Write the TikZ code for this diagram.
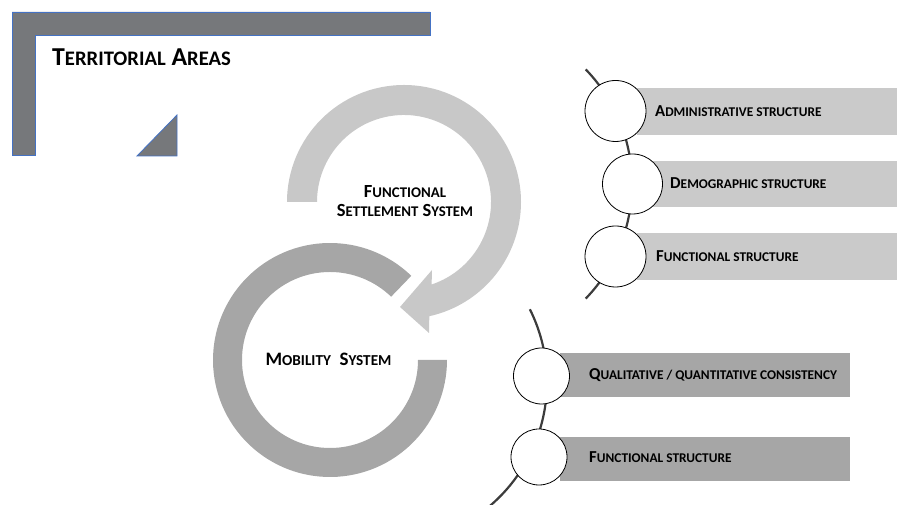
\documentclass[tikz,border=0pt]{standalone}
\usepackage{fontspec}
\setmainfont{Carlito}
\usetikzlibrary{calc}

% first letter at full size, the rest as reduced capitals
\makeatletter
\newcommand\capsx[2]{#1{\fontsize{\strip@pt\dimexpr\f@size pt*4/5\relax}{0pt}\selectfont #2}}
\makeatother

\definecolor{frame}{RGB}{118,120,123}
\definecolor{edge}{RGB}{68,114,196}
\definecolor{ringlight}{RGB}{200,200,200}
\definecolor{ringdark}{RGB}{166,166,166}
\definecolor{barlight}{RGB}{202,202,202}
\definecolor{bardark}{RGB}{166,166,166}
\definecolor{spine}{RGB}{60,60,60}

\tikzset{
  frameshape/.style={fill=frame, draw=edge, line width=0.8pt, line join=miter},
  spineline/.style={draw=spine, line width=2.2pt},
  bead/.style={circle, draw=black, fill=white, line width=0.8pt, inner sep=0pt, outer sep=0pt},
  bar/.style={rectangle, inner sep=0pt, outer sep=0pt, anchor=south west},
  itemtext/.style={anchor=base west, inner sep=0pt, font=\bfseries\fontsize{16.7}{18}\selectfont},
  ringtext/.style={anchor=base, inner sep=0pt, font=\bfseries\fontsize{18.5}{20}\selectfont},
}

\begin{document}
\begin{tikzpicture}[x=1pt,y=1pt]
\useasboundingbox (0,0) rectangle (897,505);
\clip (0,0) rectangle (897,505);

% corner frame and small triangle
\path[frameshape] (12,493) -- (430,493) -- (430,470) -- (35,470) -- (35,350) -- (12,350) -- cycle;
\path[frameshape] (137,349) -- (177,349) -- (177,390) -- cycle;
\node[anchor=base west, inner sep=0pt, font=\bfseries\fontsize{25.8}{28}\selectfont] (title) at (52,439)
  {\capsx{T}{ERRITORIAL} \capsx{A}{REAS}};

% mobility ring
\begin{scope}[shift={(330,145)}]
  \fill[ringdark] (46:117) arc[start angle=46, end angle=360, radius=117]
    -- (0:88) arc[start angle=360, end angle=46, radius=88] -- cycle;
\end{scope}

% settlement ring with arrow head
\begin{scope}[shift={(404,303)}]
  \fill[ringlight] (180:117) arc[start angle=180, end angle=-77.5, radius=117]
    -- (25,-131) -- (-4,-105) -- (28,-68)
    -- (-71.5:87) arc[start angle=-71.5, end angle=180, radius=87] -- cycle;
\end{scope}

\node[ringtext] (fssa) at (405,307) {\capsx{F}{UNCTIONAL}};
\node[ringtext] (fssb) at (405,288) {\capsx{S}{ETTLEMENT} \capsx{S}{YSTEM}};
\node[anchor=base, inner sep=0pt, font=\bfseries\fontsize{19}{21}\selectfont] (mob) at (328.5,139)
  {\capsx{M}{OBILITY}\ \ \capsx{S}{YSTEM}};

% upper list: spine, bars, beads
\begin{scope}[shift={(467,321)}]
  \draw[spineline] (-44:165) arc[start angle=-44, end angle=44, radius=165];
\end{scope}
\node[bar, fill=barlight, minimum width=260pt, minimum height=47pt] (b1) at (637,370) {};
\node[bar, fill=barlight, minimum width=247pt, minimum height=46pt] (b2) at (650,298) {};
\node[bar, fill=barlight, minimum width=260pt, minimum height=47pt] (b3) at (637,225) {};
\node[bead, minimum size=61pt] (c1) at (615.5,394) {};
\node[bead, minimum size=60pt] (c2) at (632.5,321) {};
\node[bead, minimum size=61pt] (c3) at (615.5,248.5) {};
\node[itemtext] (t1) at (655,388) {\capsx{A}{DMINISTRATIVE STRUCTURE}};
\node[itemtext] (t2) at (670,316) {\capsx{D}{EMOGRAPHIC STRUCTURE}};
\node[itemtext] (t3) at (656,243) {\capsx{F}{UNCTIONAL STRUCTURE}};

% lower list: spine, bars, beads
\begin{scope}[shift={(384,123)}]
  \draw[spineline] (-55:163) arc[start angle=-55, end angle=26.5, radius=163];
\end{scope}
\node[bar, fill=bardark, minimum width=290pt, minimum height=44pt] (b4) at (560,108) {};
\node[bar, fill=bardark, minimum width=290pt, minimum height=44pt] (b5) at (560,24) {};
\node[bead, minimum size=56pt] (c4) at (541.5,129) {};
\node[bead, minimum size=56pt] (c5) at (539,48) {};
\node[itemtext] (t4) at (589,125) {\capsx{Q}{UALITATIVE / QUANTITATIVE CONSISTENCY}};
\node[itemtext] (t5) at (589,42) {\capsx{F}{UNCTIONAL STRUCTURE}};
\end{tikzpicture}
\end{document}
